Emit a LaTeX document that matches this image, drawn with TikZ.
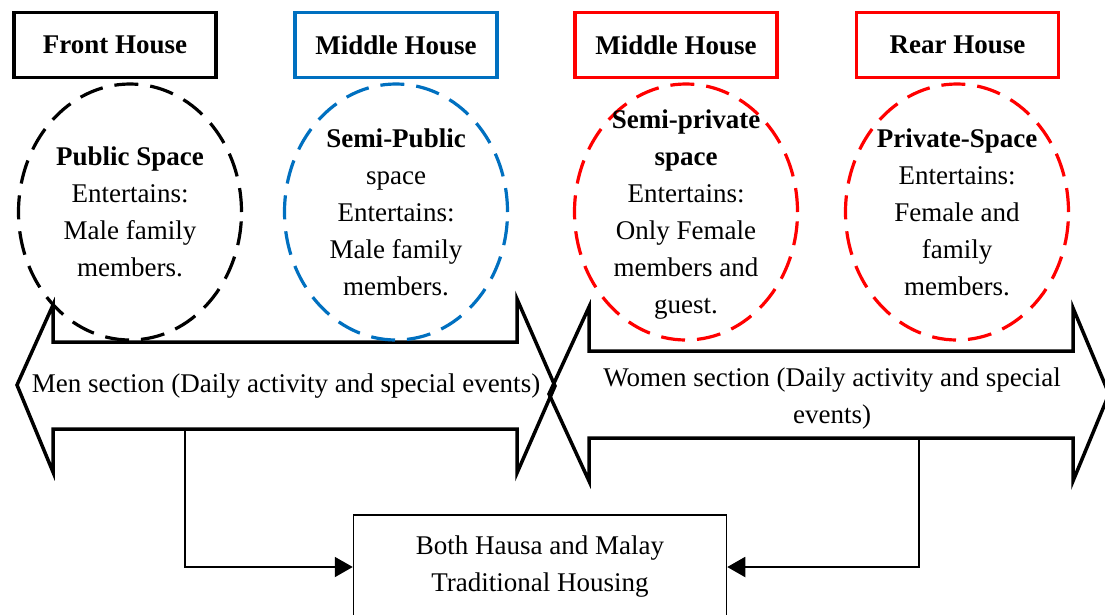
\documentclass[tikz,border=0pt]{standalone}
\usepackage{fontspec}
\setmainfont{Liberation Serif}
\usetikzlibrary{shapes.geometric,arrows.meta}
\definecolor{myblue}{RGB}{0,112,192}
\definecolor{myred}{RGB}{255,0,0}
\begin{document}
\begin{tikzpicture}[x=1pt,y=-1pt,
  every node/.style={font=\fontsize{27}{37}\selectfont},
  housebox/.style={draw,line width=3.5pt,minimum width=202pt,minimum height=65pt,inner sep=0pt,font=\fontsize{27}{37}\selectfont\bfseries},
  zone/.style={draw,ellipse,dash pattern=on 24pt off 12pt,line width=3.2pt,minimum width=223pt,minimum height=256pt,inner sep=0pt},
  ztext/.style={align=center,inner sep=0pt},
  blockarrow/.style={draw,line width=3.5pt,miter limit=10},
  conn/.style={draw,line width=2pt,-{Triangle[length=18pt,width=20pt]}},
  basebox/.style={draw,line width=1.5pt,minimum width=373pt,minimum height=104pt,align=center}
]
\clip (0,0) rectangle (1105,614);
\fill[white] (0,0) rectangle (1105,614);

% block arrows
\draw[blockarrow] (17,385) -- (53,305) -- (53,342) -- (517,342) -- (517,299) -- (555,386)
  -- (517,473) -- (517,429) -- (53,429) -- (53,472) -- cycle;
\draw[blockarrow] (549,394) -- (589,307) -- (589,351) -- (1073,351) -- (1073,308) -- (1109,394)
  -- (1073,481) -- (1073,438) -- (589,438) -- (589,481) -- cycle;
\node (men) at (286,386) {Men section (Daily activity and special events)};
\node[align=center] (women) at (832,398) {Women section (Daily activity and special\\events)};

% house boxes
\node[housebox] (front) at (115,45) {Front House};
\node[housebox,draw=myblue] (mid1) at (396,45) {Middle House};
\node[housebox,draw=myred] (mid2) at (676,45) {Middle House};
\node[housebox,draw=myred] (rear) at (957.5,45) {Rear House};

% zones
\node[zone] (z1) at (130,212) {};
\node[zone,draw=myblue] (z2) at (396,212) {};
\node[zone,draw=myred] (z3) at (686,212) {};
\node[zone,draw=myred] (z4) at (957,212) {};
\node[ztext] (t1) at (z1) {\textbf{Public Space}\\Entertains:\\Male family\\members.};
\node[ztext] (t2) at (z2) {\textbf{Semi-Public}\\space\\Entertains:\\Male family\\members.};
\node[ztext] (t3) at ([yshift=-3pt]z3) {\textbf{Semi-private}\\\textbf{space}\\Entertains:\\Only Female\\members and\\guest.};
\node[ztext] (t4) at (z4) {\textbf{Private-Space}\\Entertains:\\Female and\\family\\members.};

% bottom box and connectors
\node[basebox] (base) at (540,567) {Both Hausa and Malay\\Traditional Housing};
\coordinate (mb) at (185,429);
\coordinate (wb) at (919,438);
\draw[conn] (mb) |- (base.west);
\draw[conn] (wb) |- (base.east);
\end{tikzpicture}
\end{document}
